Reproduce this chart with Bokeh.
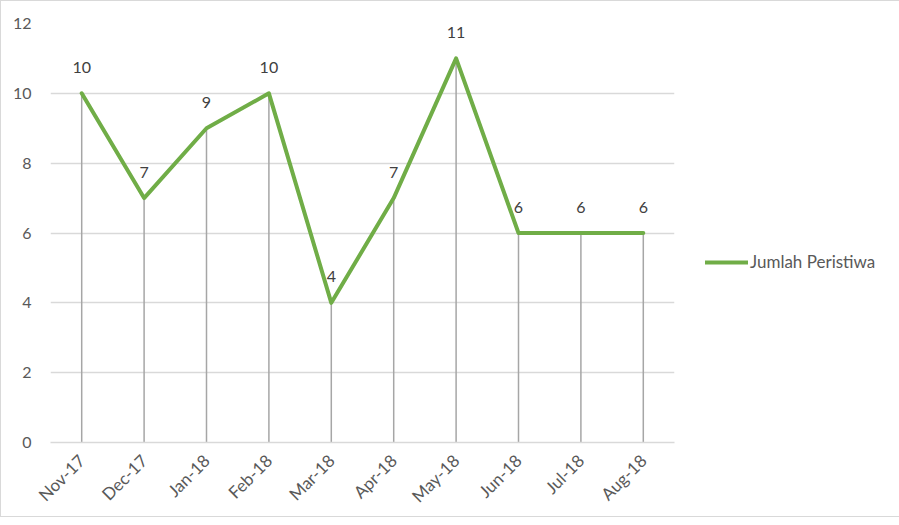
import math
from bokeh.plotting import figure
from bokeh.models import ColumnDataSource, Legend, LegendItem, FixedTicker, Range1d
from bokeh.core.properties import value
from bokeh.embed import file_html
from bokeh.resources import INLINE

months = ["Nov-17", "Dec-17", "Jan-18", "Feb-18", "Mar-18", "Apr-18", "May-18", "Jun-18", "Jul-18", "Aug-18"]
counts = [10, 7, 9, 10, 4, 7, 11, 6, 6, 6]
series_name = "Jumlah Peristiwa"
y_ticks = [0, 2, 4, 6, 8, 10, 12]

FONT = "Lato"
GREEN = "#70AD47"
TXT = "#595959"

src = ColumnDataSource(dict(x=months, y=counts, y0=[0] * len(counts), lbl=[str(c) for c in counts]))

p = figure(x_range=months, y_range=Range1d(0, 12), frame_width=624, frame_height=419,
           output_backend="svg", toolbar_location=None,
           min_border_left=49, min_border_right=208, min_border_top=22, min_border_bottom=66)
p.outline_line_color = None
p.styles = {"border": "1px solid #D9D9D9"}

p.segment(x0="x", y0="y0", x1="x", y1="y", source=src, line_color="#A6A6A6", line_width=1.5)
r = p.line(x="x", y="y", source=src, line_color=GREEN, line_width=4, line_join="round", line_cap="round")
p.text(x="x", y="y", text="lbl", source=src, text_align="center", text_baseline="middle",
       y_offset=-26, text_font=value(FONT), text_font_size="16px", text_color="#404040")

p.yaxis.ticker = FixedTicker(ticks=y_ticks)
p.yaxis.axis_line_color = None
p.yaxis.major_tick_line_color = None
p.yaxis.minor_tick_line_color = None
p.yaxis.major_label_text_font = FONT
p.yaxis.major_label_text_font_size = "16px"
p.yaxis.major_label_text_color = TXT
p.yaxis.major_label_standoff = 13

p.xaxis.axis_line_color = "#D9D9D9"
p.xaxis.axis_line_width = 1.5
p.xaxis.major_tick_line_color = None
p.xaxis.minor_tick_line_color = None
p.xaxis.major_label_orientation = math.pi / 4
p.xaxis.major_label_text_font = FONT
p.xaxis.major_label_text_font_size = "17px"
p.xaxis.major_label_text_color = TXT
p.xaxis.major_label_standoff = 9

p.xgrid.grid_line_color = None
p.ygrid.grid_line_color = "#D9D9D9"
p.ygrid.grid_line_width = 1.5

legend = Legend(items=[LegendItem(label=series_name, renderers=[r])], location=(31, 170),
                border_line_alpha=0, background_fill_alpha=0, padding=0, margin=0,
                glyph_width=43, glyph_height=20, label_standoff=2,
                label_text_font=FONT, label_text_font_size="17px", label_text_color=TXT)
p.add_layout(legend, "right")

open("out.html", "w").write(file_html(p, INLINE))
